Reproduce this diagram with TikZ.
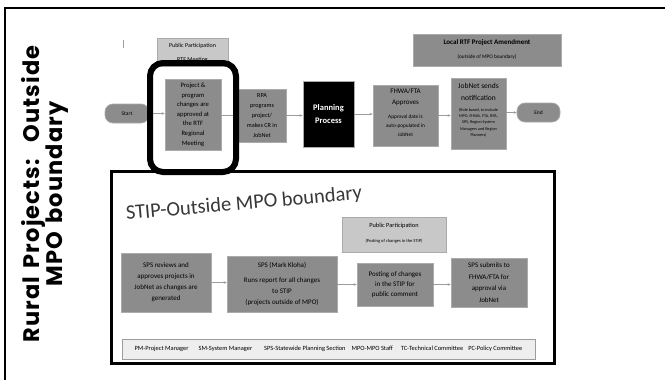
\documentclass[tikz,border=0pt]{standalone}
\usepackage{fontspec}
\setmainfont{Carlito}
\newfontfamily\titlefont[LetterSpace=5,WordSpace=1.4]{Poppins}
\usetikzlibrary{arrows.meta}
\definecolor{dk}{HTML}{8C8C8C}
\definecolor{lt}{HTML}{C8C8C8}
\definecolor{ln}{HTML}{9C9C9C}
\definecolor{edge}{HTML}{ABABAB}
\definecolor{leg}{HTML}{EEEEEE}
\begin{document}
\begin{tikzpicture}[x=1pt,y=-1pt,
  dkbox/.style={draw=edge, fill=dk, line width=0.7pt, align=center, inner sep=0pt},
  ltbox/.style={draw=edge, fill=lt, line width=0.7pt, align=center, inner sep=0pt},
  txt/.style={align=center, inner sep=0pt},
  pill/.style={draw=edge, fill=dk, line width=0.7pt, rounded corners=8pt, inner sep=0pt, font=\fontsize{5.5}{6}\selectfont},
  arr/.style={draw=ln, line width=0.7pt, -{Stealth[length=3pt,width=2.6pt]}},
  frame/.style={draw=black, line width=2pt},
  hl/.style={draw=black, line width=6pt, rounded corners=13pt},
  stipframe/.style={draw=black, line width=3pt}
]
\useasboundingbox (0,0) rectangle (665,380);
\fill[white] (0,0) rectangle (665,380);
% outer frame (cut by the page edges)
\draw[frame] (5,381) -- (5,8) -- (666,8);
% left title
\node[rotate=90, align=center, inner sep=0pt, font=\titlefont\bfseries\fontsize{22.5}{17.5}\selectfont] (title) at (45,194) {Rural Projects:\ \ Outside\\MPO boundary};
% small cursor mark
\draw[draw=ln, line width=0.6pt] (123,40) -- (123,48);

% top flow
\node[ltbox, minimum width=71pt, minimum height=28pt, anchor=north west] (pp1) at (157,38) {};
\node[txt, font=\fontsize{6}{7}\selectfont] (pp1a) at (192.5,46) {Public Participation};
\node[txt, font=\fontsize{6}{7}\selectfont] (pp1b) at (192.5,59.5) {RTF Meeting};

\node[pill, minimum width=44pt, minimum height=19pt] (start) at (127,113.5) {Start};
\node[dkbox, minimum width=56pt, minimum height=71pt, font=\fontsize{6.6}{9.6}\selectfont] (proj) at (193,114.5) {Project \&\\program\\changes are\\approved at\\the RTF\\Regional\\Meeting};
\node[dkbox, minimum width=48pt, minimum height=53pt, font=\fontsize{6.2}{9.8}\selectfont] (rpa) at (262,115.5) {RPA\\programs\\project/\\makes CR in\\JobNet};
\node[draw=edge, fill=black, line width=0.7pt, align=center, inner sep=0pt, minimum width=51pt, minimum height=66pt, text=white, font=\bfseries\fontsize{8.5}{12.5}\selectfont] (plan) at (328.5,114) {Planning\\Process};

\node[dkbox, minimum width=65pt, minimum height=61pt] (fhwa) at (405.5,115.5) {};
\node[txt, font=\fontsize{7}{11}\selectfont] (fhwaA) at (405.5,97.5) {FHWA/FTA\\Approves};
\node[txt, font=\fontsize{5.3}{9}\selectfont] (fhwaB) at (405.5,126) {Approval date is\\auto-populated in\\JobNet};

\node[dkbox, minimum width=55pt, minimum height=71pt] (jobnet) at (478.5,113.5) {};
\node[txt, font=\fontsize{7.5}{11.5}\selectfont] (jobnetA) at (478.5,92) {JobNet sends\\notification};
\node[txt, font=\fontsize{4.2}{6.3}\selectfont] (jobnetB) at (478.5,122.5) {(Role based, to include\\MPO, FHWA, FTA, RPA,\\SPS, Region System\\Managers and Region\\Planners)};

\node[pill, minimum width=43pt, minimum height=19pt] (end) at (538.5,112.5) {End};

\node[dkbox, minimum width=148pt, minimum height=32pt] (local) at (487,50) {};
\node[txt, font=\bfseries\fontsize{7}{8}\selectfont] (localA) at (487,42.5) {Local RTF Project Amendment};
\node[txt, font=\fontsize{5.3}{6}\selectfont] (localB) at (487,56.5) {(outside of MPO boundary)};

\draw[arr] (start.east) -- (start.east -| proj.west);
\draw[arr] (proj.east |- rpa.west) -- (rpa.west);
\draw[arr] (rpa.east) -- (rpa.east -| plan.west);
\draw[arr] (plan.east) -- (plan.east -| fhwa.west);
\draw[arr] (fhwa.east) -- (fhwa.east -| jobnet.west);
\draw[arr] (jobnet.east |- end.west) -- (end.west);

% highlight
\draw[hl] (150,63) rectangle (236,172);

% STIP section
\draw[stipframe] (111,171) rectangle (554,363);
\node[rotate=5, font=\fontsize{20.5}{21}\selectfont, text=black!78] (stip) at (244,204) {STIP-Outside MPO boundary};

\node[ltbox, minimum width=104pt, minimum height=35pt] (pp2) at (394,234.5) {};
\node[txt, font=\fontsize{6.3}{7}\selectfont] (pp2A) at (394,226) {Public Participation};
\node[txt, font=\fontsize{4.5}{5}\selectfont] (pp2B) at (394,241.5) {(Posting of changes in the STIP)};

\node[dkbox, minimum width=90pt, minimum height=59pt, font=\fontsize{7}{11}\selectfont] (sps1) at (166,282.5) {SPS reviews and\\approves projects in\\JobNet as changes are\\generated};
\node[dkbox, minimum width=110pt, minimum height=56pt, font=\fontsize{7}{11}\selectfont] (sps2) at (282,284) {SPS (Mark Kloha)\\[4pt]Runs report for all changes\\to STIP\\(projects outside of MPO)};
\node[dkbox, minimum width=76pt, minimum height=43pt, font=\fontsize{7}{10.2}\selectfont] (post) at (395,284.5) {Posting of changes\\in the STIP for\\public comment};
\node[dkbox, minimum width=76pt, minimum height=49pt, font=\fontsize{7}{11.6}\selectfont] (sub) at (489,282.5) {SPS submits to\\FHWA/FTA for\\approval via\\JobNet};

\draw[arr] (sps1.east) -- (sps1.east -| sps2.west);
\draw[arr] (sps2.east |- post.west) -- (post.west);
\draw[arr] (post.east) -- (post.east -| sub.west);

\node[draw=ln, fill=leg, line width=0.7pt, minimum width=413pt, minimum height=20pt, inner sep=0pt, font=\fontsize{6.4}{7}\selectfont] (legend) at (328.5,349) {PM-Project Manager\hspace{10pt}SM-System Manager\hspace{12pt}SPS-Statewide Planning Section\hspace{6pt}MPO-MPO Staff\hspace{8pt}TC-Technical Committee\hspace{5pt}PC-Policy Committee};
\end{tikzpicture}
\end{document}
